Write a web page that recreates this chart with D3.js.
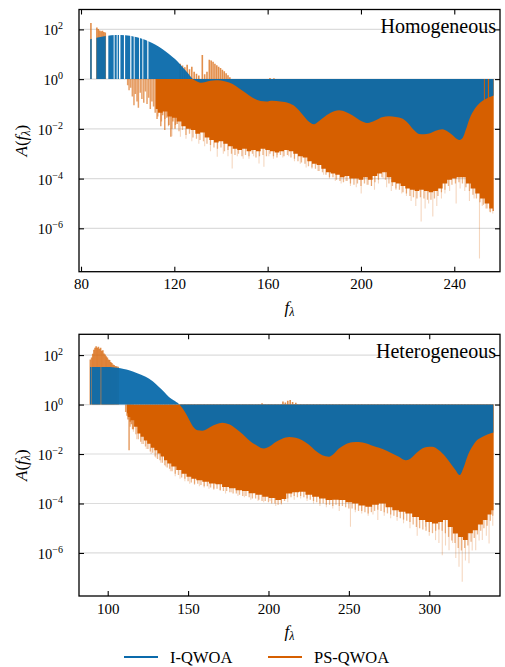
<!DOCTYPE html>
<html>
<head>
<meta charset="utf-8">
<script src="https://cdn.jsdelivr.net/npm/d3@7"></script>
<style>
body{margin:0;background:#fff}
svg, svg text{font-family:"Liberation Serif","Times New Roman",Times,serif}
</style>
</head>
<body>
<svg id="chart" width="505" height="667"></svg>
<script>
// values are [f_lambda, log10 A(f_lambda)]
const seriesNames = ["I-QWOA", "PS-QWOA"];
const panelTitles = ["Homogeneous", "Heterogeneous"];
const homXTicks = [80, 120, 160, 200, 240];
const hetXTicks = [100, 150, 200, 250, 300];
const yTickExps = [-6, -4, -2, 0, 2];

// ---- homogeneous ----
const homBlue = [[83.9,1.60],[86.6,1.66],[90,1.72],[93,1.76],[97,1.77],[101,1.74],[104,1.68],[107.7,1.57],[110.5,1.45],
  [113.4,1.30],[116.3,1.11],[119.1,0.90],[121.5,0.70],[123.4,0.50],[125.5,0.28],[127.7,0.03],[129.2,-0.07],[131.3,-0.15],
  [133.4,-0.12],[135.5,-0.07],[137.7,-0.05],[140,-0.06],[142,-0.10],[145,-0.20],[147.7,-0.37],[150.5,-0.55],[153.4,-0.74],
  [157,-0.88],[159.5,-0.90],[162,-0.87],[165.5,-0.90],[169.2,-0.97],[171.5,-1.08],[173.4,-1.25],[175.2,-1.45],[177,-1.65],
  [179.9,-1.81],[181.5,-1.72],[183.4,-1.58],[187,-1.35],[190.6,-1.25],[193.5,-1.32],[196.3,-1.45],[199.5,-1.65],[202.7,-1.76],
  [206.3,-1.65],[209,-1.53],[212,-1.49],[215,-1.52],[217.7,-1.58],[220.5,-1.80],[222.7,-2.05],[224.9,-2.21],[227,-2.22],
  [229.2,-2.19],[232,-2.08],[234.9,-2.02],[237,-2.10],[239.2,-2.25],[241,-2.40],[242.3,-2.45],[243.7,-2.35],[244.9,-2.05],
  [246.5,-1.60],[248.4,-1.25],[250.5,-1.00],[252.7,-0.84],[254.7,-0.74],[256.9,-0.66]];
const homBlueSpans = [[83.9,84.6],[86.6,90.6],[91.7,94.0],[94.4,95.3],[95.7,96.3],[96.9,98.4],[98.9,101.1],[101.6,102.6],
  [103.0,104.9],[105.3,106.3],[106.7,108.4],[108.9,252.7],[253.1,254.4],[254.9,256.9]];
const homOrangeUp = [[84.25,2.26],[86.8,2.08],[87.4,2.02],[88.0,1.96],[88.6,1.93],[89.2,1.95],[89.8,1.90],[90.4,1.88],
  [122.5,0.62],[123.5,0.55],[124.5,0.48],[125.5,0.58],[126.5,0.40],[127.5,0.50],[128.5,0.30],[129.5,0.22],[130.5,0.15],
  [132.0,0.97],[133.0,0.20],[134.0,0.30],[135.0,0.78],[135.8,0.75],[136.6,0.70],[137.4,0.62],[138.2,0.56],[139.0,0.50],
  [139.8,0.45],[140.6,0.38],[141.4,0.32],[142.2,0.24],[143.0,0.16],[143.8,0.08],[161.0,0.05],[162.7,0.04]];
const homOrangeSparse = [[100.0,-0.25],[100.6,-0.45],[101.3,-0.35],[102.0,-0.70],[102.7,-1.05],[103.3,-0.60],[104.0,-0.90],
  [104.6,-1.15],[105.4,-0.55],[106.1,-0.80],[106.9,-0.95],[107.6,-0.50],[108.3,-1.00],[109.0,-0.75],[109.7,-1.20],
  [110.4,-0.90],[111.1,-1.10],[111.8,-1.35],[112.6,-1.60],[113.4,-1.25],[114.2,-1.90],[115.0,-1.45],[115.9,-2.05],
  [116.8,-1.55],[117.7,-1.85],[118.5,-2.32],[119.4,-1.70],[120.3,-2.00],[121.2,-1.80]];
const homOrangeCore = [[112,-1.2],[114,-1.35],[116,-1.3],[118,-1.5],[120,-1.55],[122,-1.7],[124,-1.9],[126,-2.0],[128,-2.05],
  [130,-2.2],[132,-2.15],[134,-2.35],[136,-2.45],[138,-2.55],[140,-2.5],[142,-2.6],[144,-2.7],[146,-2.8],[148,-2.85],
  [150,-2.8],[152,-2.9],[154,-2.85],[156,-2.9],[158,-2.8],[160,-2.85],[162,-2.9],[164,-2.95],[166,-2.9],[168,-2.85],
  [170,-2.9],[172,-3.0],[174,-3.1],[176,-3.15],[178,-3.3],[180,-3.4],[182,-3.45],[184,-3.6],[186,-3.75],[188,-3.8],
  [190,-3.85],[192,-3.95],[194,-3.9],[196,-4.0],[198,-4.0],[200,-4.05],[202,-3.95],[204,-4.05],[206,-3.9],[208,-3.8],
  [210,-3.75],[212,-3.95],[214,-4.15],[216,-4.2],[218,-4.3],[220,-4.4],[222,-4.45],[224,-4.5],[226,-4.45],[228,-4.5],
  [230,-4.55],[232,-4.5],[234,-4.4],[236,-4.2],[238,-4.05],[240,-4.0],[242,-3.95],[244,-3.95],[246,-4.2],[248,-4.4],
  [250,-4.6],[252,-4.8],[254,-5.0],[256,-5.2],[256.9,-5.3]];
const homOrangeMid = [[113,-1.5],[114.5,-1.7],[116,-1.6],[117.5,-1.9],[119,-2.0],[120.5,-1.85],[122,-2.1],[123.5,-2.05],
  [125,-2.25],[126.5,-2.2],[128,-2.35],[129.5,-2.4],[131,-2.45],[132.5,-2.5],[134,-2.6],[135.5,-2.65],[137,-2.75],
  [138.5,-2.8],[140,-2.75],[141.5,-2.9],[143,-2.85],[144.5,-3.0],[146,-3.05],[147.5,-3.0],[149,-3.1],[150.5,-3.05],
  [152,-3.1],[153.5,-3.0],[155,-3.15],[156.5,-3.1],[158,-3.05],[159.5,-3.1],[161,-3.0],[162.5,-3.1],[164,-3.15],
  [165.5,-3.05],[167,-3.1],[168.5,-3.05],[170,-3.15],[171.5,-3.2],[173,-3.3],[174.5,-3.35],[176,-3.4],[177.5,-3.5],
  [179,-3.55],[180.5,-3.6],[182,-3.7],[183.5,-3.75],[185,-3.85],[186.5,-3.95],[188,-3.95],[189.5,-4.05],[191,-4.1],
  [192.5,-4.15],[194,-4.1],[195.5,-4.2],[197,-4.25],[198.5,-4.2],[200,-4.3],[201.5,-4.2],[203,-4.25],[204.5,-4.3],
  [206,-4.15],[207.5,-4.05],[209,-3.95],[210.5,-4.05],[212,-4.2],[213.5,-4.3],[215,-4.4],[216.5,-4.45],[218,-4.55],
  [219.5,-4.6],[221,-4.7],[222.5,-4.75],[224,-4.8],[225.5,-4.75],[227,-4.8],[228.5,-4.85],[230,-4.85],[231.5,-4.8],
  [233,-4.7],[234.5,-4.55],[236,-4.45],[237.5,-4.3],[239,-4.25],[240.5,-4.2],[242,-4.15],[243.5,-4.2],[245,-4.35],
  [246.5,-4.5],[248,-4.65],[249.5,-4.8],[251,-4.95],[252.5,-5.05],[254,-5.2],[255.5,-5.35]];
const homOrangeFaint = [[119.0,-2.3],[122.6,-2.32],[125.0,-2.4],[127.5,-2.5],[130.5,-2.6],[133.0,-2.7],[135.5,-2.9],
  [138.4,-3.12],[141.0,-3.0],[143.0,-3.1],[144.8,-3.59],[147.0,-3.1],[149.5,-3.2],[152.0,-3.2],[154.0,-3.1],[156.3,-3.39],
  [158.4,-3.52],[160.5,-3.1],[162.5,-3.2],[164.1,-3.05],[166.5,-3.15],[169.0,-3.1],[171.5,-3.3],[174.0,-3.4],[176.5,-3.55],
  [179.0,-3.6],[181.5,-3.7],[184.0,-3.85],[186.5,-4.0],[189.0,-4.1],[191.5,-4.2],[193.5,-4.1],[195.5,-4.3],[198.0,-4.35],
  [200.1,-4.6],[202.5,-4.25],[204.5,-4.3],[205.8,-4.45],[207.5,-4.2],[209.5,-4.0],[211.0,-4.35],[213.0,-4.5],[215.0,-4.46],
  [217.5,-4.6],[219.5,-4.7],[221.5,-4.9],[223.5,-5.1],[225.8,-5.73],[227.5,-5.2],[229.0,-5.0],[230.8,-5.53],[232.5,-5.1],
  [234.5,-4.8],[236.0,-4.6],[238.0,-4.5],[240.8,-5.0],[242.5,-4.4],[244.5,-4.5],[246.5,-4.9],[248.5,-4.8],[250.8,-7.21],
  [252.0,-5.1],[253.5,-5.2],[255.1,-5.33],[256.5,-5.4]];

// ---- heterogeneous ----
const hetBlue = [[89,1.52],[95,1.52],[100,1.52],[103,1.51],[106,1.49],[110,1.44],[113.3,1.39],[118,1.28],[123.6,1.12],
  [128,0.94],[131.9,0.71],[135,0.52],[138.1,0.31],[141,0.17],[144.3,0.02],[146.5,-0.15],[148.6,-0.36],[151,-0.65],
  [153.7,-0.94],[156,-1.04],[158.9,-1.06],[161.5,-1.0],[164.1,-0.9],[167.5,-0.8],[171.3,-0.74],[175.5,-0.8],[179.6,-0.97],
  [184,-1.2],[187.9,-1.44],[192.5,-1.65],[195,-1.75],[197.2,-1.78],[200,-1.72],[204.5,-1.51],[208.5,-1.38],[212.8,-1.31],
  [217,-1.34],[221,-1.44],[225,-1.62],[229.3,-1.87],[233.5,-2.05],[237.6,-2.11],[240.5,-2.0],[243.8,-1.78],[248,-1.6],
  [252,-1.52],[256.2,-1.51],[261,-1.57],[266.6,-1.71],[271,-1.8],[276,-1.95],[281.1,-2.11],[285.2,-2.25],[288,-2.2],
  [291,-2.02],[295.6,-1.78],[298.5,-1.72],[301.8,-1.71],[306,-1.85],[310.1,-2.11],[313.5,-2.4],[316.3,-2.65],[318.8,-2.85],
  [321.5,-2.52],[324,-2.05],[326.7,-1.71],[329.5,-1.45],[332.9,-1.31],[336.5,-1.2],[340,-1.13]];
const hetBlueSpans = [[89.0,89.9],[90.2,95.6],[96.0,340.0]];
const hetOrangeUp = [[89.2,1.82],[90.0,1.9],[90.7,2.05],[91.4,2.22],[92.1,2.3],[92.8,2.36],[93.5,2.3],[94.2,2.34],
  [94.9,2.26],[95.6,2.3],[96.3,2.18],[97.0,2.2],[97.7,2.06],[98.4,2.02],[99.1,1.95],[99.8,1.9],[100.5,1.82],[101.2,1.8],
  [101.9,1.72],[102.6,1.68],[103.3,1.62],[104.0,1.6],[104.8,1.56],[105.6,1.55],[106.5,1.53],[196.0,0.05],[209.0,0.12],
  [210.5,0.08],[212.0,0.15],[213.5,0.18],[215.0,0.1],[217.0,0.07]];
const hetOrangeSparse = [[111.2,-0.3],[112.0,-0.45],[112.6,-0.6],[113.3,-1.85],[114.0,-0.7],[114.7,-0.8],[115.5,-1.0]];
const hetOrangeCore = [[112,-0.35],[113,-0.5],[115.3,-0.63],[117.5,-0.9],[119.4,-1.17],[121.5,-1.3],[123.5,-1.45],
  [125.6,-1.58],[128,-1.75],[130,-1.85],[131.9,-1.98],[134,-2.1],[136,-2.25],[138.1,-2.38],[141,-2.5],[144.3,-2.65],
  [147.5,-2.8],[150.5,-2.92],[153.5,-3.0],[156.7,-3.06],[161,-3.12],[165,-3.19],[169,-3.22],[173.3,-3.33],[177.5,-3.38],
  [181.6,-3.46],[185.5,-3.5],[189.9,-3.59],[194,-3.65],[198.2,-3.73],[202,-3.78],[206.5,-3.86],[209.5,-3.82],[212.7,-3.6],
  [217,-3.55],[221,-3.53],[225,-3.65],[229.3,-3.73],[233.5,-3.8],[237.6,-3.86],[241.5,-3.85],[245.9,-3.86],[250,-3.95],
  [254.1,-4.0],[258,-4.08],[262.4,-4.13],[266.5,-4.05],[270.7,-4.0],[275,-4.15],[279,-4.27],[283,-4.33],[287.3,-4.4],
  [291.5,-4.55],[295.6,-4.67],[299.5,-4.75],[303.9,-4.81],[307,-4.75],[310.1,-4.67],[313,-4.95],[316.3,-5.21],
  [319.5,-5.35],[322.5,-5.48],[325.5,-5.2],[328.7,-5.08],[331.8,-4.85],[334.9,-4.67],[337.5,-4.45],[340,-4.27]];
const hetOrangeMid = [[114,-0.9],[116,-1.0],[117.5,-1.2],[119,-1.4],[120.5,-1.5],[122,-1.6],[123.5,-1.7],[125,-1.8],
  [126.5,-1.9],[128,-1.95],[129.5,-2.1],[131,-2.2],[132.5,-2.25],[134,-2.35],[135.5,-2.45],[137,-2.55],[138.5,-2.6],
  [140,-2.7],[142,-2.8],[144,-2.85],[146,-2.95],[148,-3.0],[150,-3.1],[152,-3.15],[154,-3.2],[156,-3.2],[158,-3.25],
  [160,-3.3],[162,-3.3],[164,-3.35],[166,-3.4],[168,-3.4],[170,-3.45],[172,-3.5],[174,-3.5],[176,-3.55],[178,-3.6],
  [180,-3.6],[182,-3.65],[184,-3.7],[186,-3.7],[188,-3.75],[190,-3.8],[192,-3.8],[194,-3.85],[196,-3.9],[198,-3.9],
  [200,-3.95],[202,-4.0],[204,-4.0],[206,-4.05],[208,-4.0],[210,-3.9],[212,-3.8],[214,-3.75],[216,-3.7],[218,-3.75],
  [220,-3.7],[222,-3.75],[224,-3.8],[226,-3.85],[228,-3.9],[230,-3.95],[232,-4.0],[234,-4.0],[236,-4.05],[238,-4.05],
  [240,-4.1],[242,-4.05],[244,-4.1],[246,-4.1],[248,-4.15],[250,-4.2],[252,-4.2],[254,-4.25],[256,-4.3],[258,-4.3],
  [260,-4.35],[262,-4.4],[264,-4.35],[266,-4.3],[268,-4.25],[270,-4.3],[272,-4.35],[274,-4.4],[276,-4.45],[278,-4.5],
  [280,-4.55],[282,-4.6],[284,-4.65],[286,-4.7],[288,-4.75],[290,-4.85],[292,-4.95],[294,-5.0],[296,-5.05],[298,-5.1],
  [300,-5.15],[302,-5.2],[304,-5.1],[306,-5.05],[308,-5.1],[310,-5.2],[312,-5.35],[314,-5.5],[316,-5.6],[318,-5.8],
  [320,-5.9],[322,-5.8],[324,-5.7],[326,-5.55],[328,-5.4],[330,-5.25],[332,-5.1],[334,-5.0],[336,-4.9],[338,-4.7],
  [339.5,-4.5]];
const hetOrangeFaint = [[116,-1.1],[118,-1.4],[121,-1.6],[124,-1.8],[127,-2.0],[130,-2.15],[133,-2.35],[136,-2.5],
  [139,-2.7],[142,-2.9],[145,-3.0],[148,-3.1],[151,-3.2],[154,-3.25],[157,-3.3],[160,-3.35],[163,-3.4],[166,-3.45],
  [170,-3.5],[173.3,-3.6],[177,-3.55],[181,-3.7],[185,-3.75],[189,-3.85],[193.5,-3.9],[197,-3.95],[201,-3.9],[204.5,-4.1],
  [208,-4.05],[212,-3.95],[216,-3.85],[220,-3.8],[224,-3.9],[228,-4.0],[232,-4.1],[236,-4.15],[240,-4.2],[244,-4.3],
  [251,-4.94],[254,-4.35],[258,-4.4],[262,-4.5],[265,-4.45],[268,-4.67],[272,-4.5],[276,-4.6],[280,-4.7],[284,-4.8],
  [288,-5.0],[292.5,-5.3],[297.7,-4.94],[300,-5.3],[303.9,-5.48],[306,-5.6],[308.1,-6.09],[310.1,-5.7],[312.3,-5.89],
  [314.5,-5.6],[316.5,-6.2],[318.5,-6.56],[320.5,-7.16],[322.5,-6.3],[324.7,-6.42],[326.7,-5.9],[328.9,-5.89],
  [331,-5.5],[333,-5.48],[335.5,-5.3],[337.2,-5.62],[339.5,-4.9]];

const blueColor = "#0a6aab", orangeColor = "#d65f00";
const serif = "Liberation Serif, Times New Roman, serif";
const plotLeft = 79, plotRight = 500;

const panels = [
  {title: panelTitles[0], top: 9.5, bottom: 271.7, xDomain: [79.14, 259.6], xTicks: homXTicks, yDomain: [-7.745, 2.8],
   blue: homBlue, spans: homBlueSpans, up: homOrangeUp, sparse: homOrangeSparse, core: homOrangeCore,
   mid: homOrangeMid, faint: homOrangeFaint},
  {title: panelTitles[1], top: 334.3, bottom: 596, xDomain: [82.15, 344], xTicks: hetXTicks, yDomain: [-7.74, 2.84],
   blue: hetBlue, spans: hetBlueSpans, up: hetOrangeUp, sparse: hetOrangeSparse, core: hetOrangeCore,
   mid: hetOrangeMid, faint: hetOrangeFaint}
];

const svg = d3.select("#chart");
const pow = v => Math.pow(10, v);

function spikes(parent, rows, x, y, width, opacity){
  parent.append("g").selectAll("line").data(rows).enter().append("line")
    .attr("x1", d => x(d[0])).attr("x2", d => x(d[0]))
    .attr("y1", y(1)).attr("y2", d => y(pow(d[1])))
    .attr("stroke", orangeColor).attr("stroke-width", width).attr("stroke-opacity", opacity);
}

panels.forEach(function(p, pi){
  const x = d3.scaleLinear().domain(p.xDomain).range([plotLeft, plotRight]);
  const y = d3.scaleLog().domain([pow(p.yDomain[0]), pow(p.yDomain[1])]).range([p.bottom, p.top]);
  const y1 = y(1);
  const g = svg.append("g");

  const clipId = "plotclip" + pi;
  svg.append("clipPath").attr("id", clipId).append("rect")
    .attr("x", plotLeft).attr("y", p.top).attr("width", plotRight - plotLeft).attr("height", p.bottom - p.top);

  // grid
  g.selectAll(".grid").data(yTickExps).enter().append("line")
    .attr("x1", plotLeft).attr("x2", plotRight)
    .attr("y1", d => y(pow(d))).attr("y2", d => y(pow(d)))
    .attr("stroke", "#dcdcdc").attr("stroke-width", 1.2);

  const data = g.append("g").attr("clip-path", "url(#" + clipId + ")");

  // PS-QWOA: faint deep streaks, softer fringe, sparse start, dense body
  spikes(data, p.faint, x, y, 1.1, 0.25);
  spikes(data, p.mid, x, y, 1.3, 0.45);
  spikes(data, p.sparse, x, y, 1.5, 0.6);
  const coreArea = d3.area().curve(d3.curveStep)
    .x(d => x(d[0])).y0(y1).y1(d => y(pow(d[1])));
  data.append("path").datum(p.core).attr("d", coreArea).attr("fill", orangeColor);
  spikes(data, p.up, x, y, 1.6, 0.7);

  // I-QWOA on top, drawn only where its bars exist
  const spanClip = "spanclip" + pi;
  svg.append("clipPath").attr("id", spanClip).selectAll("rect").data(p.spans).enter().append("rect")
    .attr("x", d => x(d[0])).attr("width", d => x(d[1]) - x(d[0]))
    .attr("y", p.top).attr("height", p.bottom - p.top);
  const blueArea = d3.area().curve(d3.curveMonotoneX)
    .x(d => x(d[0])).y0(y1).y1(d => y(pow(d[1])));
  data.append("g").attr("clip-path", "url(#" + spanClip + ")")
    .append("path").datum(p.blue).attr("d", blueArea).attr("fill", blueColor).attr("fill-opacity", 0.95);

  // axes, ticks inward on all four sides
  const xb = g.append("g").attr("transform", "translate(0," + p.bottom + ")")
    .call(d3.axisBottom(x).tickValues(p.xTicks).tickSizeInner(-5).tickSizeOuter(0).tickPadding(7));
  const xt = g.append("g").attr("transform", "translate(0," + p.top + ")")
    .call(d3.axisTop(x).tickValues(p.xTicks).tickSizeInner(-5).tickSizeOuter(0).tickFormat(""));
  const yl = g.append("g").attr("transform", "translate(" + plotLeft + ",0)")
    .call(d3.axisLeft(y).tickValues(yTickExps.map(pow)).tickSizeInner(-5).tickSizeOuter(0).tickFormat(""));
  const yr = g.append("g").attr("transform", "translate(" + plotRight + ",0)")
    .call(d3.axisRight(y).tickValues(yTickExps.map(pow)).tickSizeInner(-5).tickSizeOuter(0).tickFormat(""));
  [xb, xt, yl, yr].forEach(a => {
    a.attr("font-family", serif);
    a.select(".domain").remove();
    a.selectAll(".tick line").attr("stroke", "#000").attr("stroke-width", 1.1);
  });
  xb.selectAll(".tick text").attr("font-size", 15).attr("fill", "#000");

  // y tick labels as 10^k
  yl.selectAll(".tick").each(function(d){
    const e = Math.round(Math.log10(d));
    const t = d3.select(this).append("text").attr("x", -16).attr("y", 5.5)
      .attr("text-anchor", "end").attr("fill", "#000").attr("font-size", 14.5);
    t.append("tspan").text("10");
    t.append("tspan").attr("dy", -6).attr("font-size", 10).text(e < 0 ? "\u2212" + (-e) : String(e));
  });

  // frame
  g.append("rect").attr("x", plotLeft).attr("y", p.top)
    .attr("width", plotRight - plotLeft).attr("height", p.bottom - p.top)
    .attr("fill", "none").attr("stroke", "#000").attr("stroke-width", 1.3);

  // panel title
  g.append("text").attr("x", 496).attr("y", p.top + 23.5).attr("text-anchor", "end")
    .attr("font-family", serif).attr("font-size", 20).attr("fill", "#000").text(p.title);

  // axis labels
  const cy = (p.top + p.bottom) / 2;
  const yLab = g.append("text").attr("transform", "translate(27," + cy + ") rotate(-90)")
    .attr("text-anchor", "middle").attr("font-family", serif).attr("font-size", 17).attr("fill", "#000");
  yLab.append("tspan").attr("font-style", "italic").text("A");
  yLab.append("tspan").text("(");
  yLab.append("tspan").attr("font-style", "italic").text("f");
  yLab.append("tspan").attr("font-style", "italic").attr("font-size", 12).attr("dy", 3).text("\u03bb");
  yLab.append("tspan").attr("dy", -3).text(")");

  const xLab = g.append("text").attr("x", (plotLeft + plotRight) / 2).attr("y", p.bottom + 41)
    .attr("text-anchor", "middle").attr("font-family", serif).attr("font-size", 17).attr("fill", "#000");
  xLab.append("tspan").attr("font-style", "italic").text("f");
  xLab.append("tspan").attr("font-style", "italic").attr("font-size", 12).attr("dy", 3).text("\u03bb");
});

// legend
const legend = svg.append("g");
const legendItems = [{name: seriesNames[0], color: blueColor, x: 124}, {name: seriesNames[1], color: orangeColor, x: 268}];
legendItems.forEach(function(d){
  legend.append("line").attr("x1", d.x).attr("x2", d.x + 34).attr("y1", 657).attr("y2", 657)
    .attr("stroke", d.color).attr("stroke-width", 2);
  legend.append("text").attr("x", d.x + 46).attr("y", 662.5).attr("font-family", serif)
    .attr("font-size", 16.5).attr("fill", "#000").text(d.name);
});
</script>
</body>
</html>
